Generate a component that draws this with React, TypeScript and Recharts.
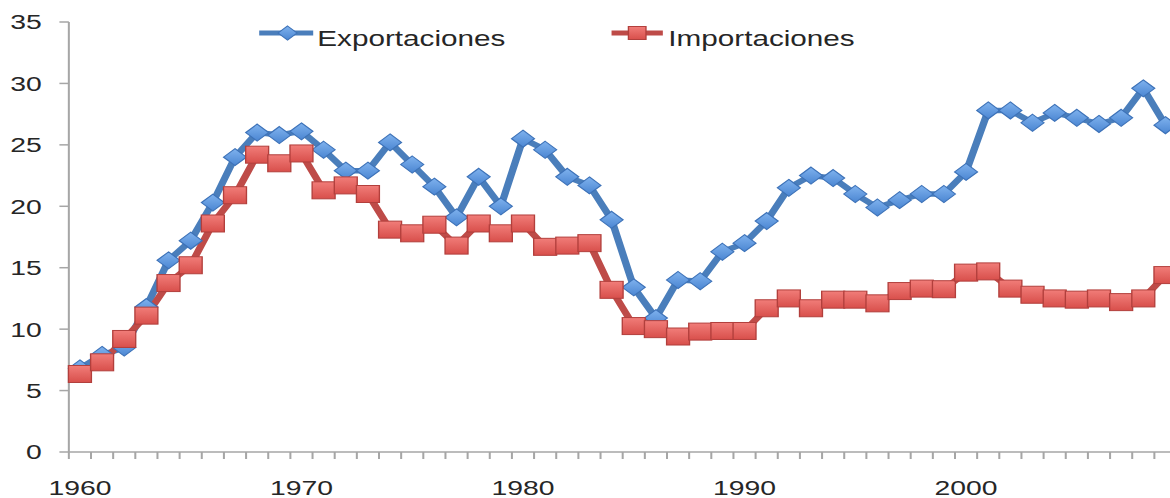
import { LineChart, Line, XAxis, YAxis, Legend } from "recharts";

const years = [
    1960, 1961, 1962, 1963, 1964, 1965, 1966, 1967, 1968, 1969,
    1970, 1971, 1972, 1973, 1974, 1975, 1976, 1977, 1978, 1979,
    1980, 1981, 1982, 1983, 1984, 1985, 1986, 1987, 1988, 1989,
    1990, 1991, 1992, 1993, 1994, 1995, 1996, 1997, 1998, 1999,
    2000, 2001, 2002, 2003, 2004, 2005, 2006, 2007, 2008, 2009,
];

const exportaciones = [
    6.8, 7.9, 8.5, 11.8, 15.6, 17.2, 20.3, 24.0, 26.0, 25.8,
    26.1, 24.6, 22.9, 22.9, 25.2, 23.4, 21.6, 19.1, 22.4, 20.0,
    25.5, 24.6, 22.4, 21.7, 18.9, 13.4, 10.9, 14.0, 13.9, 16.3,
    17.0, 18.8, 21.5, 22.5, 22.3, 21.0, 19.9, 20.5, 21.0, 21.0,
    22.8, 27.8, 27.8, 26.8, 27.6, 27.2, 26.7, 27.2, 29.6, 26.6,
];

const importaciones = [
    6.35, 7.3, 9.2, 11.1, 13.75, 15.2, 18.6, 20.9, 24.2, 23.5,
    24.3, 21.3, 21.7, 21.0, 18.1, 17.8, 18.5, 16.8, 18.6, 17.8,
    18.6, 16.7, 16.8, 17.0, 13.2, 10.25, 10.0, 9.4, 9.8, 9.85,
    9.85, 11.7, 12.5, 11.7, 12.4, 12.4, 12.1, 13.1, 13.3, 13.25,
    14.6, 14.7, 13.3, 12.8, 12.5, 12.4, 12.5, 12.2, 12.5, 14.4,
];

const yearLabels = [1960, 1970, 1980, 1990, 2000];
const yTicks = [0, 5, 10, 15, 20, 25, 30, 35];

const data = years.map((year, i) => ({
    year,
    exportaciones: exportaciones[i],
    importaciones: importaciones[i],
}));

// tick marks sit between the years, labels on the years
const boundaries = [...years.map((y) => y - 0.5), years[years.length - 1] + 0.5];
const xTicks = [...boundaries, ...yearLabels].sort((a, b) => a - b);

const FONT = "'Liberation Sans', Arial, sans-serif";
const TEXT = "#262626";
const AXIS = "#a6a6a6";
const BLUE = "#4a7ebb";
const RED = "#be4b48";

function Diamond({ cx, cy, r = 8.5 }: any) {
    return (
        <polygon
            points={`${cx},${cy - r} ${cx + r},${cy} ${cx},${cy + r} ${cx - r},${cy}`}
            fill="url(#gradBlue)"
            stroke="#3d72b8"
            strokeWidth={1}
        />
    );
}

function Square({ cx, cy, r = 8.5 }: any) {
    return (
        <rect
            x={cx - r}
            y={cy - r}
            width={r * 2}
            height={r * 2}
            fill="url(#gradRed)"
            stroke="#b23f3c"
            strokeWidth={1}
        />
    );
}

function XTick({ x, y, payload }: any) {
    const v = payload.value;
    if (!Number.isInteger(v)) {
        return <line x1={x} x2={x} y1={y} y2={y + 7} stroke={AXIS} strokeWidth={1.5} />;
    }
    if (!yearLabels.includes(v)) return null;
    return (
        <text x={x} y={y + 28} dy="0.71em" textAnchor="middle" fill={TEXT} fontSize={21} fontFamily={FONT}>
            {v}
        </text>
    );
}

function LegendContent() {
    return (
        <svg width={900} height={60} style={{ display: "block" }}>
            <line x1={192} x2={232} y1={33} y2={33} stroke={BLUE} strokeWidth={5} />
            <Diamond cx={213} cy={33} r={7} />
            <text x={235} y={46} fontSize={22} fontFamily={FONT} fill={TEXT}>
                Exportaciones
            </text>
            <line x1={453} x2={491} y1={33} y2={33} stroke={RED} strokeWidth={5} />
            <Square cx={472} cy={33} r={6.5} />
            <text x={495} y={46} fontSize={22} fontFamily={FONT} fill={TEXT}>
                Importaciones
            </text>
        </svg>
    );
}

export default function App() {
    return (
        <div
            style={{
                position: "fixed",
                left: 0,
                top: 0,
                width: 1170,
                height: 498,
                overflow: "hidden",
                background: "#fff",
            }}
        >
            <svg width={0} height={0} style={{ position: "absolute" }}>
                <defs>
                    <linearGradient id="gradBlue" x1="0" y1="0" x2="0" y2="1">
                        <stop offset="0%" stopColor="#7fb2ee" />
                        <stop offset="100%" stopColor="#4b86d2" />
                    </linearGradient>
                    <linearGradient id="gradRed" x1="0" y1="0" x2="0" y2="1">
                        <stop offset="0%" stopColor="#f17d79" />
                        <stop offset="100%" stopColor="#d84f4b" />
                    </linearGradient>
                </defs>
            </svg>
            {/* the reference is stretched sideways, so the chart is too */}
            <div style={{ width: 900, transform: "scaleX(1.35)", transformOrigin: "0 0" }}>
                <LineChart
                    width={900}
                    height={498}
                    data={data}
                    margin={{ top: 22, right: 28.5, bottom: 0, left: 0 }}
                >
                    <XAxis
                        dataKey="year"
                        type="number"
                        domain={[boundaries[0], boundaries[boundaries.length - 1]]}
                        ticks={xTicks}
                        interval={0}
                        tick={<XTick />}
                        tickLine={false}
                        tickSize={0}
                        tickMargin={0}
                        height={46}
                        axisLine={{ stroke: AXIS, strokeWidth: 1.5 }}
                    />
                    <YAxis
                        width={51}
                        domain={[0, 35]}
                        ticks={yTicks}
                        interval={0}
                        tickSize={7}
                        tickMargin={13}
                        tickLine={{ stroke: AXIS, strokeWidth: 1.5 }}
                        axisLine={{ stroke: AXIS, strokeWidth: 1.5 }}
                        tick={{ fill: TEXT, fontSize: 21, fontFamily: FONT }}
                    />
                    <Legend
                        layout="horizontal"
                        verticalAlign="middle"
                        align="center"
                        wrapperStyle={{ top: 0, left: 0, width: 900, height: 60 }}
                        content={<LegendContent />}
                    />
                    <Line
                        dataKey="exportaciones"
                        name="Exportaciones"
                        stroke={BLUE}
                        strokeWidth={5.5}
                        isAnimationActive={false}
                        dot={(p: any) => <Diamond key={`e-${p.index}`} cx={p.cx} cy={p.cy} />}
                    />
                    <Line
                        dataKey="importaciones"
                        name="Importaciones"
                        stroke={RED}
                        strokeWidth={5.5}
                        isAnimationActive={false}
                        dot={(p: any) => <Square key={`i-${p.index}`} cx={p.cx} cy={p.cy} />}
                    />
                </LineChart>
            </div>
        </div>
    );
}
